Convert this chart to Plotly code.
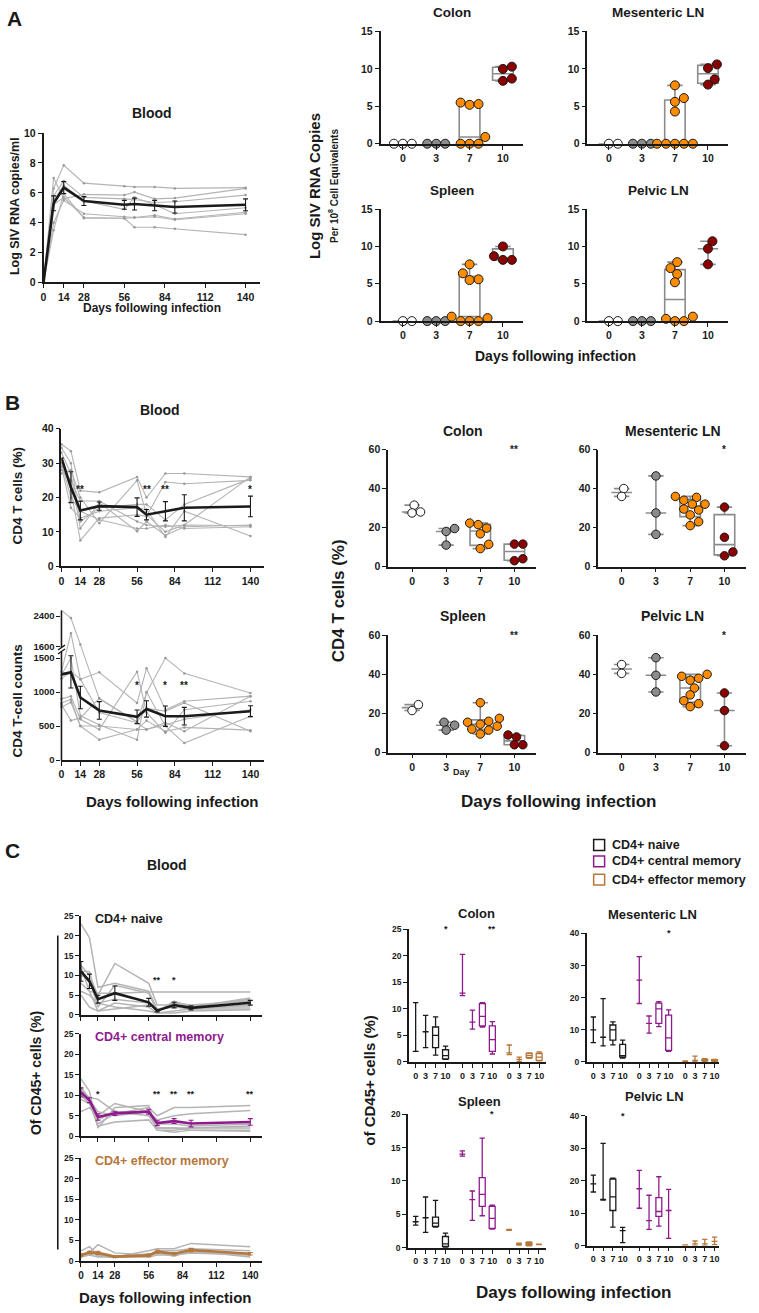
import numpy as np
import plotly.graph_objects as go

W, H = 759, 1313
FONT = "Liberation Sans"
BLACK = "#1a1a1a"
GRAY_LINE = "#b4b4b4"
BOX_GRAY = "#8c8c8c"
DAY_COLORS = ["#ffffff", "#8c8c8c", "#ff8c00", "#8b0000"]
PURPLE = "#8e1a8e"
BROWN = "#b5773a"

# ======================= DATA =======================
blood_days = [0, 7, 14, 28, 56, 63, 77, 91, 140]
blood_ticks = [0, 14, 28, 56, 84, 112, 140]
tissue_days = ["0", "3", "7", "10"]

# ---- Panel A: plasma viral load (log SIV RNA copies/ml) ----
vl_animals = [
    [0, 6.3, 7.85, 6.65, 6.45, 6.4, 6.4, 6.3, 6.35],
    [0, 7.0, 5.6, 5.9, 5.85, 6.05, 5.6, 5.65, 6.3],
    [0, 5.8, 6.8, 5.7, 5.6, 5.55, 5.35, 5.4, 5.85],
    [0, 5.5, 6.5, 5.45, 4.9, 5.7, 5.2, 4.6, 5.0],
    [0, 4.0, 5.5, 4.6, 4.4, 4.35, 4.5, 4.25, 4.7],
    [0, 3.5, 5.95, 4.3, 4.3, 3.7, 3.7, 3.6, 3.2],
    [0, 5.2, 5.7, 4.35, 4.3, 4.35, 4.4, 4.2, 4.6],
]
vl_mean = [0, 5.3, 6.35, 5.45, 5.2, 5.25, 5.15, 5.05, 5.2]
vl_sem = [0, 0.5, 0.4, 0.3, 0.3, 0.4, 0.35, 0.4, 0.4]

# ---- Panel A: tissue viral RNA (log copies / 10^8 cell eq.) by day 0,3,7,10 ----
vl_colon = [[0, 0, 0], [0, 0, 0], [5.5, 5.2, 5.3, 0.9, 0, 0, 0], [10.3, 10.0, 8.7, 8.4]]
vl_mesLN = [[0, 0], [0, 0, 0], [7.8, 6.1, 5.6, 4.3, 0, 0, 0, 0, 0], [10.6, 10.1, 8.6, 7.9]]
vl_spleen = [[0, 0], [0, 0, 0], [7.6, 6.4, 5.6, 5.5, 0.6, 0.4, 0, 0, 0], [10.0, 8.7, 8.2, 8.2]]
vl_pelvic = [[0, 0], [0, 0, 0], [7.9, 7.1, 6.3, 5.2, 0.6, 0.3, 0, 0], [10.7, 9.7, 7.6]]

# ---- Panel B: blood CD4 T cells (%) ----
cd4pct_animals = [
    [35.5, 33.5, 22, 21.5, 26, 20, 27, 27, 26],
    [34.5, 30, 13, 17, 18, 18, 13.5, 18, 25.5],
    [33, 27, 11, 18.5, 10.2, 13, 9, 11.5, 12],
    [31, 22, 7.5, 14, 15, 14.5, 24.5, 24, 25],
    [30, 20, 16, 13.5, 11, 11, 12, 11, 11.5],
    [29, 17, 14, 16, 17, 16.5, 8.5, 16, 8.8],
    [28, 25, 19, 19, 13, 12, 11.5, 12, 11.8],
    [27, 28, 20, 12.5, 25, 15, 10, 12, 26],
]
cd4pct_mean = [31.5, 23, 16.2, 17.5, 17.2, 15, 16, 17, 17.4]
cd4pct_sem = [0, 4.5, 2.7, 1.2, 2.7, 1.5, 2.8, 3.8, 3.0]
cd4pct_sig_days = [14, 63, 77, 140]
cd4pct_sig_text = ["**", "**", "**", "*"]

# ---- Panel B: blood CD4 T-cell counts ----
cd4cnt_animals = [
    [2550, 2350, 1650, 900, 560, 990, 1500, 1275, 985],
    [1300, 1950, 1190, 1290, 840, 1350, 740, 865, 940],
    [1250, 1500, 650, 520, 300, 1000, 500, 250, 645],
    [900, 940, 600, 450, 1300, 700, 400, 740, 865],
    [840, 890, 500, 300, 450, 450, 520, 600, 740],
    [815, 580, 620, 910, 560, 760, 720, 840, 425],
    [1200, 1300, 1190, 700, 550, 450, 550, 425, 940],
    [780, 850, 500, 500, 450, 580, 420, 480, 440],
]
cd4cnt_mean = [1260, 1290, 920, 730, 636, 752, 645, 645, 718]
cd4cnt_sem = [0, 230, 165, 130, 100, 120, 150, 130, 80]
cd4cnt_ticks = [0, 500, 1000, 1500, 1600, 2400]
cd4cnt_sig_days = [56, 77, 91]
cd4cnt_sig_text = ["*", "*", "**"]

# ---- Panel B: tissue CD4 T cells (%) by day 0,3,7,10 ----
cd4_colon = [[31.5, 27.5, 28], [19.5, 18, 11], [22.3, 21.5, 19.7, 16.8, 11.4, 9.2], [11.5, 11.5, 4, 3]]
cd4_mesLN = [[40, 36], [46.5, 27.5, 16.5], [36, 35.5, 34, 32, 32, 29.5, 29, 26.5, 23, 21], [30.5, 15, 7.5, 5.5]]
cd4_spleen = [[24.5, 21.5], [15.5, 14, 11.5], [25.5, 17.5, 16, 15.5, 14.5, 13.5, 12, 11.5, 9.5], [9, 8, 4, 4]]
cd4_pelvic = [[45, 40.5], [48.5, 39.5, 31], [40, 39, 38, 37, 33, 29.5, 26.5, 25, 23.5], [30.5, 21.5, 3.5]]
cd4_tissue_sig = ["**", "*", "**", "*"]

# ---- Panel C: blood subsets (% of CD45+) ----
naive_animals = [
    [23, 19.5, 7, 8, 6, 1.5, 2, 2, 2],
    [12.5, 10, 5, 13, 8, 2.5, 2.5, 2, 4],
    [11, 11, 3, 4, 3, 1, 3, 2.5, 3.5],
    [10, 9, 2, 7.5, 5.5, 0.8, 3.5, 2, 4.3],
    [8, 6, 1, 3, 2, 0.5, 1, 1.5, 1.5],
    [6, 5, 3, 2, 1, 0.5, 0.5, 1, 1.3],
    [5, 2, 1, 1.5, 2.5, 1.5, 2, 1.5, 2.5],
    [12, 6, 5.5, 5.5, 5.8, 5.8, 5.8, 5.8, 5.8],
]
naive_mean = [11, 8.5, 4, 5.5, 3.2, 1.1, 2.5, 1.8, 3.1]
naive_sem = [2.5, 1.8, 1, 1.8, 1, 0.3, 0.7, 0.5, 0.6]
naive_sig_days = [63, 77]
naive_sig_text = ["**", "*"]

central_animals = [
    [14, 11, 2, 7, 7.5, 1.5, 1, 1.5, 1.5],
    [12, 9, 3, 5.5, 7, 5, 7, 7, 7.5],
    [11, 9.5, 9, 6, 6, 4, 5, 5.5, 6.3],
    [10, 8, 4, 6, 5, 2, 2, 2, 2],
    [9, 8, 2.5, 3.5, 4, 1.5, 1.5, 2, 2.5],
    [6, 7, 5, 8, 6, 3, 3, 2.5, 3],
    [12, 9, 6, 5, 6, 2, 2, 1.5, 1.2],
]
central_mean = [10.7, 8.8, 4.7, 5.6, 6.0, 3.2, 3.7, 3.1, 3.5]
central_sem = [1.1, 0.6, 0.8, 0.5, 0.6, 0.6, 0.6, 0.8, 0.8]
central_sig_days = [14, 63, 77, 91, 140]
central_sig_text = ["*", "**", "**", "**", "**"]

effector_animals = [
    [2.5, 3.5, 1.5, 1, 2.5, 3, 3, 4.3, 3.5],
    [1.5, 2, 4.0, 2, 1.5, 2.5, 2.5, 3, 2.5],
    [1, 1.5, 2, 1, 1, 1.5, 1.5, 2, 1.5],
    [1.2, 1.5, 1.0, 1.2, 1.2, 2, 1.2, 2.5, 1.0],
    [0.8, 2.5, 1.2, 0.8, 1.8, 1.8, 2, 2.2, 1.5],
]
effector_mean = [1.5, 2.1, 2.0, 1.1, 1.4, 2.3, 1.8, 2.7, 1.8]
effector_sem = [0.3, 0.3, 0.4, 0.2, 0.3, 0.4, 0.3, 0.4, 0.3]

# ---- Panel C: tissue subsets, (min, q1, median, q3, max) for day 0,3,7,10 ----
colon_naive = [(2, 2, 2, 2, 11.2), (2.7, 5.7, 5.7, 5.7, 8.8), (1.3, 2.7, 5.0, 6.6, 8.5), (0.5, 0.6, 1.2, 2.3, 3.0)]
colon_central = [(12.5, 13, 13, 13, 20.3), (6.2, 7.5, 7.5, 7.5, 9.8), (6.6, 6.8, 8.6, 11, 11.2), (1.5, 2, 4.2, 6.8, 7.6)]
colon_effector = [(1.4, 1.7, 1.7, 1.7, 3.2), (0.1, 0.5, 0.5, 0.5, 0.9), (0.7, 0.8, 1.2, 1.6, 1.7), (0.2, 0.3, 0.9, 1.6, 1.9)]
mesLN_naive = [(6, 10, 10, 10, 14), (5, 7.7, 7.7, 7.7, 19.7), (5.3, 6.8, 10, 11.5, 12.5), (1.2, 1.5, 2, 5.5, 6.8)]
mesLN_central = [(18.2, 25.5, 25.5, 25.5, 32.8), (9, 12, 12, 12, 14.3), (11, 12, 16.5, 18.3, 18.8), (3.3, 3.6, 7.5, 14.6, 16.2)]
mesLN_effector = [(0.1, 0.2, 0.2, 0.2, 0.3), (0, 0.5, 0.5, 0.5, 1.8), (0.2, 0.4, 0.6, 0.8, 1.0), (0.2, 0.3, 0.5, 0.7, 0.8)]
spleen_naive = [(3.4, 3.9, 3.9, 3.9, 4.7), (2.3, 4.5, 4.5, 4.5, 7.6), (3.1, 3.2, 3.7, 4.6, 7.1), (0, 0.2, 0.6, 1.7, 2.2)]
spleen_central = [(13.7, 14, 14, 14, 14.5), (4.1, 7.2, 7.2, 7.2, 8.5), (4.8, 6.2, 8, 10.5, 16.4), (2.8, 2.9, 4.4, 6.2, 6.4)]
spleen_effector = [(2.6, 2.7, 2.7, 2.7, 2.75), (0.4, 0.55, 0.55, 0.55, 0.7), (0.3, 0.4, 0.6, 0.8, 0.9), (0.5, 0.5, 0.5, 0.5, 0.55)]
pelvic_naive = [(16.5, 19, 19, 19, 21.7), (14, 14.2, 14.2, 14.2, 31.5), (5.7, 10.8, 15, 20.5, 20.8), (0.9, 4.6, 4.6, 4.6, 5.6)]
pelvic_central = [(11.5, 17.5, 17.5, 17.5, 23.2), (5, 7.7, 7.7, 7.7, 15.5), (6, 9, 10.5, 14.8, 21.2), (2.2, 10.8, 10.8, 10.8, 17.3)]
pelvic_effector = [(0, 0.1, 0.1, 0.1, 0.2), (0, 0.5, 0.5, 0.5, 1.4), (0, 0.5, 0.5, 0.5, 1.9), (0.3, 1.3, 1.3, 1.3, 2.6)]
subset_names = ["CD4+ naive", "CD4+ central memory", "CD4+ effector memory"]

# ======================= FIGURE =======================
fig = go.Figure()
layout = dict(
    width=W, height=H, margin=dict(l=0, r=0, t=0, b=0),
    paper_bgcolor="white", plot_bgcolor="rgba(0,0,0,0)",
    showlegend=False, boxmode="overlay",
    font=dict(family=FONT, color=BLACK),
)
annotations = []
shapes = []
axis_count = [0]
axis_info = {}


def tf(size):
    return dict(family=FONT, size=size, color=BLACK, weight="bold")


def new_axes(x0, x1, ytop, ybot, xrange, yrange, xtickvals, xticktext, ytickvals,
             yticktext=None, xfont=10, yfont=10, xshowlabels=True, yline=True):
    axis_count[0] += 1
    n = axis_count[0]
    s = "" if n == 1 else str(n)
    common = dict(showline=True, linecolor=BLACK, linewidth=1.6, ticks="outside",
                  ticklen=4, tickwidth=1.4, tickcolor=BLACK, showgrid=False,
                  zeroline=False, fixedrange=True, tickangle=0)
    xa = dict(common, domain=[x0 / W, x1 / W], range=xrange, anchor="y" + s,
              tickmode="array", tickvals=xtickvals, ticktext=xticktext,
              showticklabels=xshowlabels, tickfont=tf(xfont))
    ya = dict(common, domain=[1 - ybot / H, 1 - ytop / H], range=yrange, anchor="x" + s,
              tickmode="array", tickvals=ytickvals,
              ticktext=yticktext if yticktext is not None else [str(v) for v in ytickvals],
              tickfont=tf(yfont), showline=yline)
    layout["xaxis" + s] = xa
    layout["yaxis" + s] = ya
    axis_info["x" + s] = (x0, x1, xrange)
    axis_info["y" + s] = (ytop, ybot, yrange)
    return "x" + s, "y" + s


def text(px, py, t, size, color=BLACK, angle=0, xanchor="center"):
    annotations.append(dict(x=px / W, y=1 - py / H, xref="paper", yref="paper", text=t,
                            showarrow=False, font=tf(size) | dict(color=color),
                            textangle=angle, xanchor=xanchor, yanchor="middle"))


def data_text(xr, yr, x, y, t, size=10, color=BLACK):
    annotations.append(dict(x=x, y=y, xref=xr, yref=yr, text=t, showarrow=False,
                            font=tf(size) | dict(color=color), yanchor="middle"))


def blood_lines(xr, yr, animals, mean, sem, color, ytrans=None, gray_width=1.1, gray_markers=True):
    f = ytrans if ytrans is not None else (lambda v: np.asarray(v, float))
    for a in animals:
        fig.add_trace(go.Scatter(x=blood_days, y=f(a),
                                 mode="lines+markers" if gray_markers else "lines",
                                 line=dict(color=GRAY_LINE, width=gray_width),
                                 marker=dict(size=2.5, color="#999999"),
                                 xaxis=xr, yaxis=yr, hoverinfo="skip", cliponaxis=False))
    m = np.asarray(mean, float)
    e = np.asarray(sem, float)
    up = f(m + e) - f(m)
    dn = f(m) - f(np.maximum(m - e, 0))
    fig.add_trace(go.Scatter(x=blood_days, y=f(m), mode="lines",
                             line=dict(color=color, width=2.6),
                             error_y=dict(type="data", array=up, arrayminus=dn,
                                          color=color, thickness=1.1, width=2.5),
                             xaxis=xr, yaxis=yr, hoverinfo="skip", cliponaxis=False))


def swarm_offsets(values, xr, yr, diam):
    x0, x1, xrange = axis_info[xr]
    ytop, ybot, yrange = axis_info[yr]
    xs = (x1 - x0) / (xrange[1] - xrange[0])
    ys = (ybot - ytop) / (yrange[1] - yrange[0])
    order = sorted(range(len(values)), key=lambda i: values[i])
    placed = []
    offs = [0.0] * len(values)
    cands = [0.0]
    for j in range(1, 30):
        cands += [j * diam * 0.25, -j * diam * 0.25]
    for i in order:
        yp = values[i] * ys
        chosen = 0.0
        for c in cands:
            if all((c - px) ** 2 + (yp - py) ** 2 >= (diam * 0.95) ** 2 for px, py in placed):
                chosen = c
                break
        placed.append((chosen, yp))
        offs[i] = chosen / xs
    return offs


def tissue_panel(xr, yr, groups, diam, boxw=0.62):
    for i, vals in enumerate(groups):
        v = np.asarray(vals, float)
        if len(v) <= 3:
            med = float(np.median(v))
            q1 = q3 = med
        else:
            q1, med, q3 = np.percentile(v, [25, 50, 75], method="weibull")
        fig.add_trace(go.Box(x=[i], q1=[q1], median=[med], q3=[q3],
                             lowerfence=[v.min()], upperfence=[v.max()],
                             width=boxw, whiskerwidth=0.75, boxpoints=False,
                             line=dict(color=BOX_GRAY, width=1.6),
                             fillcolor="rgba(0,0,0,0)", xaxis=xr, yaxis=yr,
                             hoverinfo="skip"))
    for i, vals in enumerate(groups):
        offs = swarm_offsets(vals, xr, yr, diam)
        fig.add_trace(go.Scatter(x=[i + o for o in offs], y=vals, mode="markers",
                                 marker=dict(size=diam, color=DAY_COLORS[i],
                                             line=dict(color=BLACK, width=1)),
                                 xaxis=xr, yaxis=yr, hoverinfo="skip", cliponaxis=False))


def subset_boxes(xr, yr, stats, group, color):
    pos = [group * 4.7 + i for i in range(4)]
    fig.add_trace(go.Box(x=pos, lowerfence=[s[0] for s in stats], q1=[s[1] for s in stats],
                         median=[s[2] for s in stats], q3=[s[3] for s in stats],
                         upperfence=[s[4] for s in stats], width=0.6, whiskerwidth=0.9,
                         boxpoints=False, line=dict(color=color, width=1.3),
                         fillcolor="rgba(0,0,0,0)", xaxis=xr, yaxis=yr, hoverinfo="skip"))


cat_pos = [0, 1, 2, 3]

# ---------------- Panel A ----------------
text(12, 13, "A", 21)
text(150, 108, "Blood", 14)
xr, yr = new_axes(40.7, 258, 128.3, 279, [0, 150], [0, 10], blood_ticks,
                  [str(t) for t in blood_ticks], [0, 2, 4, 6, 8, 10], xfont=10.5, yfont=10.5)
blood_lines(xr, yr, vl_animals, vl_mean, vl_sem, BLACK)
text(12, 202, "Log SIV RNA copies/ml", 12.5, angle=-90)
text(150, 305, "Days following infection", 12)

a_axes = [
    (379, 522, 25.7, 139, [-0.67, 3.6], vl_colon, "Colon", 450.7, 7),
    (586.7, 728, 25.7, 139, [-0.65, 3.61], vl_mesLN, "Mesenteric LN", 658, 7),
    (379, 522, 205, 318, [-0.67, 3.6], vl_spleen, "Spleen", 450.7, 185.7),
    (586.7, 728, 205, 318, [-0.65, 3.61], vl_pelvic, "Pelvic LN", 658, 185.7),
]
for x0, x1, yt, yb, xrg, groups, title, tx, ty in a_axes:
    xr, yr = new_axes(x0, x1, yt, yb, xrg, [0, 15], cat_pos, tissue_days,
                      [0, 5, 10, 15], xfont=10.5, yfont=10.5)
    tissue_panel(xr, yr, groups, 9)
    text(tx, ty, title, 13.5)
text(313, 182, "Log SIV RNA Copies", 15, angle=-90)
text(332, 182, "Per 10<sup>8</sup> Cell Equivalents", 10, angle=-90)
text(555, 353, "Days following infection", 14)

# ---------------- Panel B ----------------
text(10, 400, "B", 21)
text(158, 408, "Blood", 14)
xr, yr = new_axes(58.7, 262, 426.7, 565.4, [0, 150], [0, 40], blood_ticks,
                  [str(t) for t in blood_ticks], [0, 10, 20, 30, 40], xfont=10.5, yfont=10.5)
blood_lines(xr, yr, cd4pct_animals, cd4pct_mean, cd4pct_sem, BLACK)
for d, t in zip(cd4pct_sig_days, cd4pct_sig_text):
    data_text(xr, yr, d, 22.3, t, 10)
text(15, 494, "CD4 T cells (%)", 13.5, angle=-90)


def cnt_t(v):
    v = np.asarray(v, float)
    return np.where(v <= 1500, v, np.where(v <= 1600, 1500 + (v - 1500) * 1.7,
                                           1670 + (v - 1600) * 0.56))


xr, yr = new_axes(58.7, 262, 610, 761, [0, 150], [0, 2201], blood_ticks,
                  [str(t) for t in blood_ticks], [float(cnt_t(v)) for v in cd4cnt_ticks],
                  yticktext=[str(v) for v in cd4cnt_ticks], xfont=10.5, yfont=9.5, yline=False)
blood_lines(xr, yr, cd4cnt_animals, cd4cnt_mean, cd4cnt_sem, BLACK, ytrans=cnt_t)
for d, t in zip(cd4cnt_sig_days, cd4cnt_sig_text):
    data_text(xr, yr, d, 1100, t, 10)
# broken y axis
ax_x = 58.7 / W
shapes.append(dict(type="line", xref="paper", yref="paper", x0=ax_x, x1=ax_x,
                   y0=1 - 761.5 / H, y1=1 - 651.5 / H, line=dict(color=BLACK, width=1.6)))
shapes.append(dict(type="line", xref="paper", yref="paper", x0=ax_x, x1=ax_x,
                   y0=1 - 647.5 / H, y1=1 - 610 / H, line=dict(color=BLACK, width=1.6)))
for yy in (651.5, 647.5):
    shapes.append(dict(type="line", xref="paper", yref="paper", x0=(ax_x * W - 3.5) / W,
                       x1=(ax_x * W + 3.5) / W, y0=1 - (yy + 2.5) / H, y1=1 - (yy - 2.5) / H,
                       line=dict(color=BLACK, width=1.3)))
text(15, 701, "CD4 T-cell counts", 13.5, angle=-90)
text(170, 803, "Days following infection", 15)

b_axes = [
    (386.7, 535, 447.7, 565.7, [-0.70, 3.63], cd4_colon, "Colon", 461.7, 429.3),
    (597.7, 746, 447.7, 565.7, [-0.68, 3.63], cd4_mesLN, "Mesenteric LN", 672.3, 429.3),
    (386.7, 535, 635, 753.5, [-0.70, 3.63], cd4_spleen, "Spleen", 461.7, 616),
    (597.7, 746, 635, 753.5, [-0.68, 3.63], cd4_pelvic, "Pelvic LN", 672.3, 616),
]
for k, (x0, x1, yt, yb, xrg, groups, title, tx, ty) in enumerate(b_axes):
    xr, yr = new_axes(x0, x1, yt, yb, xrg, [0, 60], cat_pos, tissue_days,
                      [0, 20, 40, 60], xfont=10.5, yfont=10.5)
    tissue_panel(xr, yr, groups, 8.5, boxw=0.6)
    text(tx, ty, title, 14)
    data_text(xr, yr, 3, 60, cd4_tissue_sig[k], 10)
text(337, 600, "CD4 T cells (%)", 17, angle=-90)
text(460, 773, "Day", 9)
text(558, 803, "Days following infection", 17)

# ---------------- Panel C ----------------
text(10, 852, "C", 21)
text(165, 867, "Blood", 14)
c_blood = [
    (918.3, 1018.3, naive_animals, naive_mean, naive_sem, BLACK, "CD4+ naive", False),
    (1037.3, 1140.7, central_animals, central_mean, central_sem, PURPLE, "CD4+ central memory", False),
    (1162.7, 1266.7, effector_animals, effector_mean, effector_sem, BROWN, "CD4+ effector memory", True),
]
c_blood_axes = []
for yt, yb, anim, mean, sem, col, lab, showx in c_blood:
    xr, yr = new_axes(78.3, 260.4, yt, yb, [0, 150], [0, 25], blood_ticks,
                      [str(t) for t in blood_ticks], [0, 5, 10, 15, 20, 25],
                      xfont=10, yfont=8.5, xshowlabels=showx)
    blood_lines(xr, yr, anim, mean, sem, col, gray_width=1.5, gray_markers=False)
    text(90, yt + 3, lab, 12.5, color=col, xanchor="left")
    c_blood_axes.append((xr, yr))
for d, t in zip(naive_sig_days, naive_sig_text):
    data_text(*c_blood_axes[0], d, 8.9, t, 9)
for d, t in zip(central_sig_days, central_sig_text):
    data_text(*c_blood_axes[1], d, 10.3, t, 9)
shapes.append(dict(type="line", xref="paper", yref="paper", x0=55 / W, x1=55 / W,
                   y0=1 - 1255 / H, y1=1 - 938 / H, line=dict(color=BLACK, width=1.6)))
text(33, 1077, "Of CD45+ cells (%)", 14, angle=-90)
text(163, 1303, "Days following infection", 15)

# legend
for k, (name, col) in enumerate(zip(subset_names, [BLACK, PURPLE, BROWN])):
    cy = [846.7, 863.3, 881.7][k]
    shapes.append(dict(type="rect", xref="paper", yref="paper", x0=593 / W, x1=604 / W,
                       y0=1 - (cy + 5.5) / H, y1=1 - (cy - 5.5) / H,
                       line=dict(color=col, width=1.5), fillcolor="white"))
    text(609, cy, name, 12.5, xanchor="left")

subset_ticks = [g * 4.7 + i for g in range(3) for i in range(4)]
subset_ticktext = tissue_days * 3
c_axes = [
    (407.7, 545, 932, 1065.7, [-0.66, 13.07], [0, 25], [0, 5, 10, 15, 20, 25],
     (colon_naive, colon_central, colon_effector), "Colon", 475, 915.7,
     [(3, "*"), (7.7, "**")]),
    (586, 719.3, 936, 1065.7, [-0.68, 12.9], [0, 40], [0, 10, 20, 30, 40],
     (mesLN_naive, mesLN_central, mesLN_effector), "Mesenteric LN", 652.3, 917.3,
     [(7.7, "*")]),
    (406.7, 545, 1118.3, 1253.3, [-0.76, 13.1], [0, 20], [0, 5, 10, 15, 20],
     (spleen_naive, spleen_central, spleen_effector), "Spleen", 478.3, 1105.3,
     [(7.7, "*")]),
    (586, 719.3, 1120, 1251, [-0.68, 12.9], [0, 40], [0, 10, 20, 30, 40],
     (pelvic_naive, pelvic_central, pelvic_effector), "Pelvic LN", 654, 1101,
     [(3, "*")]),
]
for x0, x1, yt, yb, xrg, yrg, yt_vals, sets, title, tx, ty, sig in c_axes:
    xr, yr = new_axes(x0, x1, yt, yb, xrg, yrg, subset_ticks, subset_ticktext, yt_vals,
                      xfont=9, yfont=8.5)
    for g, (stats, col) in enumerate(zip(sets, [BLACK, PURPLE, BROWN])):
        subset_boxes(xr, yr, stats, g, col)
    text(tx, ty, title, 13)
    for sx, st in sig:
        data_text(xr, yr, sx, yrg[1], st, 9)
text(368, 1085, "of CD45+ cells (%)", 15, angle=-90)
text(573, 1298, "Days following infection", 17)

layout["annotations"] = annotations
layout["shapes"] = shapes
fig.update_layout(**layout)
fig.write_html("out.html", config={"displayModeBar": False},
               post_script="document.body.style.margin='0';")
